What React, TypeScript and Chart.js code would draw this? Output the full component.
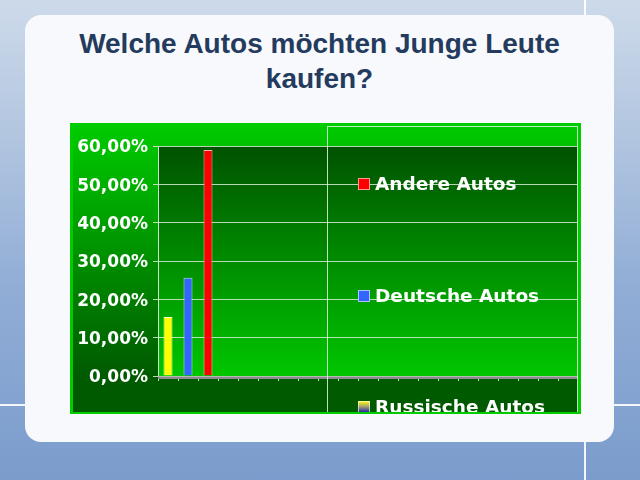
import React, { useEffect, useRef } from 'react';
import { Chart, registerables } from 'chart.js';

Chart.register(...registerables);

// ---- data ----
const titleLines = ['Welche Autos möchten Junge Leute', 'kaufen?'];
const categories = ['1', '2', '3', '4', '5', '6', '7', '8', '9', '10', '11', '12', '13', '14', '15', '16', '17', '18', '19', '20', '21'];
const seriesLabels = ['Russische Autos', 'Deutsche Autos', 'Andere Autos'];
const russischeAutos = [15.38, null, null];
const deutscheAutos = [null, 25.64, null];
const andereAutos = [null, null, 58.97];
const yMin = 0;
const yMax = 60;
const yStep = 10;

const CW = 511;
const CH = 291;

const formatPct = (v: number) => v.toFixed(2).replace('.', ',') + '%';

const backgroundPlugin = {
  id: 'slideBackground',
  beforeDraw(chart: any) {
    const { ctx, chartArea } = chart;
    const w = chart.width;
    const h = chart.height;
    ctx.save();
    const g = ctx.createLinearGradient(0, 0, 0, chartArea.bottom);
    g.addColorStop(0, '#00cc00');
    g.addColorStop(1, '#005a00');
    ctx.fillStyle = g;
    ctx.fillRect(0, 0, w, h);
    ctx.fillStyle = '#005a00';
    ctx.fillRect(0, chartArea.bottom, w, h - chartArea.bottom);
    const pg = ctx.createLinearGradient(0, chartArea.top, 0, chartArea.bottom);
    pg.addColorStop(0, '#005200');
    pg.addColorStop(1, '#00c600');
    ctx.fillStyle = pg;
    ctx.fillRect(chartArea.left, chartArea.top, chartArea.right - chartArea.left, chartArea.bottom - chartArea.top);
    ctx.restore();
  },
  beforeDatasetsDraw(chart: any) {
    const { ctx, chartArea, scales } = chart;
    const y0 = scales.y.getPixelForValue(0);
    ctx.save();
    ctx.fillStyle = '#8c8c8c';
    ctx.fillRect(chartArea.left, y0, chartArea.right - chartArea.left, 3);
    ctx.fillStyle = '#b8b8b8';
    ctx.fillRect(chartArea.left, y0, chartArea.right - chartArea.left, 1);
    ctx.restore();
  },
  afterDraw(chart: any) {
    const { ctx } = chart;
    const w = chart.width;
    const h = chart.height;
    ctx.save();
    // legend box outline
    ctx.strokeStyle = 'rgba(225,245,225,0.85)';
    ctx.lineWidth = 1;
    ctx.strokeRect(257.5, 3.5, 250, 286);
    // legend items (reverse dataset order)
    const itemsY = [61, 173, 284];
    const ds = chart.data.datasets.slice().reverse();
    ctx.font = 'bold 18.5px "DejaVu Sans"';
    ctx.textBaseline = 'middle';
    ctx.textAlign = 'left';
    ds.forEach((d: any, i: number) => {
      const y = itemsY[i];
      let fill: any = d.backgroundColor;
      if (d.legendGradient) {
        const lg = ctx.createLinearGradient(0, y - 6, 0, y + 6);
        lg.addColorStop(0, d.legendGradient[0]);
        lg.addColorStop(0.5, '#9a9a7a');
        lg.addColorStop(1, d.legendGradient[1]);
        fill = lg;
      }
      ctx.fillStyle = fill;
      ctx.fillRect(288, y - 6, 12, 12);
      ctx.strokeStyle = 'rgba(255,255,255,0.6)';
      ctx.strokeRect(288.5, y - 5.5, 11, 11);
      ctx.fillStyle = '#ffffff';
      ctx.fillText(d.label, 305, y + 1);
    });
    // outer frame
    ctx.strokeStyle = '#00cc00';
    ctx.lineWidth = 3;
    ctx.beginPath();
    ctx.moveTo(1.5, h);
    ctx.lineTo(1.5, 1.5);
    ctx.lineTo(w - 1.5, 1.5);
    ctx.lineTo(w - 1.5, h);
    ctx.stroke();
    ctx.lineWidth = 2;
    ctx.beginPath();
    ctx.moveTo(0, h - 1);
    ctx.lineTo(w, h - 1);
    ctx.stroke();
    ctx.restore();
  },
};

export default function App() {
  const ref = useRef<HTMLCanvasElement>(null);

  useEffect(() => {
    const canvas = ref.current;
    if (!canvas) return;
    const chart = new Chart(canvas, {
      type: 'bar',
      data: {
        labels: categories,
        datasets: [
          {
            label: seriesLabels[0],
            data: russischeAutos,
            backgroundColor: '#ffff00',
            borderColor: '#ffffc0',
            borderWidth: 1,
            legendGradient: ['#ffff00', '#1010a0'],
          } as any,
          {
            label: seriesLabels[1],
            data: deutscheAutos,
            backgroundColor: '#3366ff',
            borderColor: '#c0d0ff',
            borderWidth: 1,
          },
          {
            label: seriesLabels[2],
            data: andereAutos,
            backgroundColor: '#ff0000',
            borderColor: '#ffb0b0',
            borderWidth: 1,
          },
        ],
      },
      options: {
        animation: false,
        responsive: false,
        devicePixelRatio: 1,
        grouped: false,
        barPercentage: 0.45,
        categoryPercentage: 1,
        layout: { padding: { top: 23, right: 3, left: 0, bottom: 0 } },
        plugins: {
          legend: { display: false },
          title: { display: false },
          tooltip: { enabled: false },
        },
        scales: {
          x: {
            type: 'category',
            offset: true,
            ticks: { display: false },
            grid: {
              display: true,
              offset: true,
              drawOnChartArea: false,
              drawTicks: true,
              tickLength: 5,
              color: 'rgba(220,235,220,0.9)',
            },
            border: { display: false },
            afterFit: (scale: any) => {
              scale.height = 38;
            },
          },
          y: {
            min: yMin,
            max: yMax,
            ticks: {
              stepSize: yStep,
              color: '#ffffff',
              font: { family: '"DejaVu Sans"', size: 17, weight: 'bold' },
              padding: 5,
              labelOffset: 2,
              callback: (v: any) => formatPct(Number(v)),
            },
            grid: {
              color: 'rgba(215,235,215,0.85)',
              lineWidth: 1,
              tickLength: 5,
            },
            border: { display: true, color: 'rgba(225,240,225,0.9)', width: 1 },
            afterFit: (scale: any) => {
              scale.width = 88;
            },
          },
        },
      } as any,
      plugins: [backgroundPlugin],
    });
    return () => chart.destroy();
  }, []);

  return (
    <div
      style={{
        position: 'absolute',
        left: 0,
        top: 0,
        width: 640,
        height: 480,
        overflow: 'hidden',
        background: 'linear-gradient(180deg, #cddaea 0%, #b5c8e1 25%, #91add6 60%, #7b9ccc 100%)',
      }}
    >
      <div style={{ position: 'absolute', left: 584, top: 0, width: 2, height: 480, background: 'rgba(255,255,255,0.9)' }} />
      <div style={{ position: 'absolute', left: 0, top: 404, width: 640, height: 2, background: 'rgba(255,255,255,0.9)' }} />
      <div
        style={{
          position: 'absolute',
          left: 25,
          top: 15,
          width: 589,
          height: 427,
          borderRadius: 16,
          background: '#f7f9fc',
        }}
      />
      <div
        style={{
          position: 'absolute',
          left: 25,
          top: 26,
          width: 589,
          textAlign: 'center',
          fontFamily: '"Liberation Sans", Arial, sans-serif',
          fontWeight: 'bold',
          fontSize: 28,
          lineHeight: '35px',
          color: '#243b5e',
        }}
      >
        {titleLines.map((t, i) => (
          <div key={i}>{t}</div>
        ))}
      </div>
      <div style={{ position: 'absolute', left: 70, top: 123, width: CW, height: CH }}>
        <canvas ref={ref} width={CW} height={CH} style={{ display: 'block', width: CW, height: CH }} />
      </div>
    </div>
  );
}
